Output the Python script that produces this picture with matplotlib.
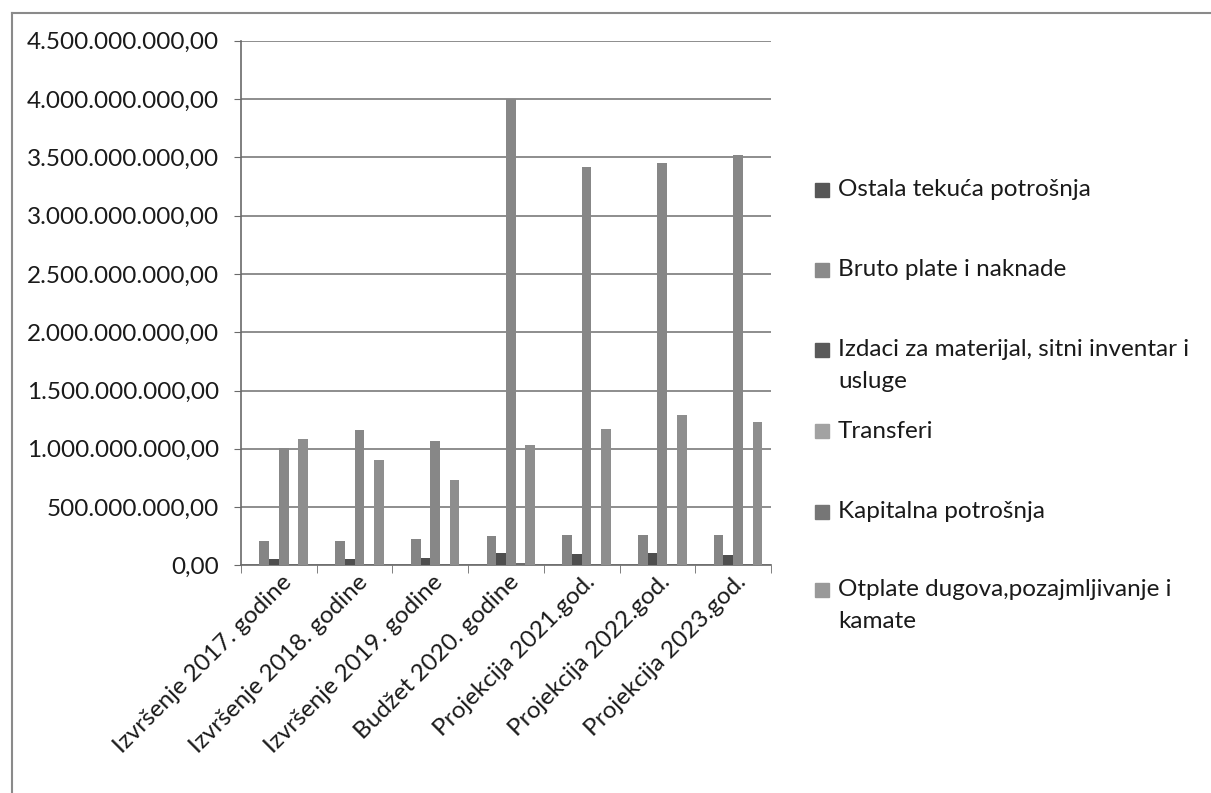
import matplotlib.pyplot as plt
import numpy as np
from matplotlib.lines import Line2D
from matplotlib.patches import Rectangle
from matplotlib.ticker import FuncFormatter, MultipleLocator
import matplotlib.transforms as mtransforms

plt.rcParams['font.family'] = ['Lato', 'DejaVu Sans']

categories = ['Izvršenje 2017. godine', 'Izvršenje 2018. godine', 'Izvršenje 2019. godine',
              'Budžet 2020. godine', 'Projekcija 2021.god.', 'Projekcija 2022.god.',
              'Projekcija 2023.god.']

# values in KM
ostala = [0, 0, 0, 0, 0, 0, 0]
bruto = [208e6, 210e6, 223e6, 251e6, 257e6, 257e6, 257e6]
izdaci = [57e6, 57e6, 63e6, 103e6, 94e6, 109e6, 88e6]
transferi = [1009e6, 1160e6, 1068e6, 4000e6, 3420e6, 3455e6, 3517e6]
kapitalna = [15e6, 15e6, 15e6, 20e6, 15e6, 15e6, 15e6]
otplate = [1086e6, 906e6, 734e6, 1031e6, 1171e6, 1294e6, 1234e6]

series = [ostala, bruto, izdaci, transferi, kapitalna, otplate]
names = ['Ostala tekuća potrošnja', 'Bruto plate i naknade',
         'Izdaci za materijal, sitni inventar i\nusluge', 'Transferi',
         'Kapitalna potrošnja', 'Otplate dugova,pozajmljivanje i\nkamate']
colors = ['#505050', '#858585', '#4e4e4e', '#878787', '#6c6c6c', '#8e8e8e']
legend_colors = ['#575757', '#8a8a8a', '#5a5a5a', '#a2a2a2', '#767676', '#999999']

W, H = 1211, 793
fig = plt.figure(figsize=(W / 100, H / 100), dpi=100)
ax = fig.add_axes([241 / W, 1 - 565.4 / H, 530 / W, 524.7 / H])

x = np.arange(len(categories))
bw = 0.128
for i, vals in enumerate(series):
    ax.bar(x + (i - 2.5) * bw, vals, bw, color=colors[i], zorder=3)

ax.set_xlim(-0.5, len(categories) - 0.5)
ax.set_ylim(0, 4.5e9)
ax.yaxis.set_major_locator(MultipleLocator(5e8))


def fmt(v, pos):
    s = f'{v:,.2f}'
    return s.replace(',', 'X').replace('.', ',').replace('X', '.')


ax.yaxis.set_major_formatter(FuncFormatter(fmt))
ax.grid(axis='y', color='#7a7a7a', linewidth=1.2, zorder=0)
for s in ['top', 'right']:
    ax.spines[s].set_visible(False)
for s in ['left', 'bottom']:
    ax.spines[s].set_color('#6a6a6a')
    ax.spines[s].set_linewidth(1.2)

ax.tick_params(axis='y', labelsize=17.5, length=5, color='#6a6a6a', pad=11, labelcolor='#1a1a1a')
ax.set_xticks(x)
ax.set_xticklabels(categories, rotation=45, ha='right', va='top', rotation_mode='anchor',
                   fontsize=17.5, color='#1a1a1a')
ax.set_xticks(np.arange(len(categories) + 1) - 0.5, minor=True)
ax.tick_params(axis='x', which='major', length=0, pad=4)
ax.tick_params(axis='x', which='minor', length=6, color='#6a6a6a')
shift = mtransforms.ScaledTranslation(2 / 100, 0, fig.dpi_scale_trans)
for lab in ax.get_xticklabels():
    lab.set_transform(lab.get_transform() + shift)

# legend drawn by hand to keep Excel's uneven spacing
ys = [190, 270, 350, 431, 512, 590]
for name, c, yy in zip(names, legend_colors, ys):
    fig.patches.append(Rectangle((815 / W, 1 - (yy + 7) / H), 14 / W, 14 / H,
                                 transform=fig.transFigure, color=c))
    for k, line in enumerate(name.split('\n')):
        fig.text(838 / W, 1 - (yy + 31 * k) / H, line, fontsize=17.5, va='center',
                 ha='left', color='#1a1a1a')

# chart border (scan shows top and left edges)
fig.add_artist(Line2D([12 / W, 1], [1 - 13 / H, 1 - 13 / H], color='#8a8a8a', lw=1.5))
fig.add_artist(Line2D([12 / W, 12 / W], [0, 1 - 13 / H], color='#8a8a8a', lw=1.5))

fig.savefig('out.png', dpi=100)
